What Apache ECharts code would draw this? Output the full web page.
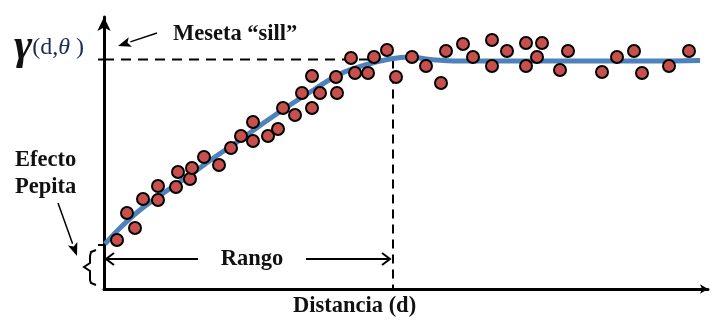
<!DOCTYPE html>
<html>
<head>
<meta charset="utf-8">
<script src="https://cdn.jsdelivr.net/npm/echarts@6/dist/echarts.min.js"></script>
<style>
html, body { margin: 0; padding: 0; background: #fff; }
#chart { width: 712px; height: 324px; }
</style>
</head>
<body>
<div id="chart"></div>
<script>
// distancia (d) y semivarianza gamma (unidades arbitrarias)
var muestrasD = [1.3, 2.3, 3.1, 3.9, 5.4, 5.4, 7.2, 7.4, 8.6, 8.8, 10.0, 11.5, 12.7, 13.7, 14.9, 14.9, 16.4, 17.4,
                 17.9, 19.1, 19.8, 20.8, 20.8, 21.6, 23.2, 23.3, 24.7, 25.1, 26.4, 27.0, 28.3, 29.2,
                 30.8, 32.2, 33.7, 34.2, 35.9, 36.9, 38.8, 38.8, 40.3, 42.2, 42.2, 43.3, 43.8, 45.6, 46.4,
                 49.8, 51.3, 53.0, 53.8, 56.5, 58.5];
var muestrasG = [4.9, 7.6, 6.1, 9.0, 8.9, 10.3, 10.2, 11.7, 11.0, 12.1, 13.2, 12.4, 14.1, 15.3, 14.8, 16.7, 15.3, 16.0,
                 18.1, 17.4, 19.6, 21.3, 18.1, 19.6, 21.2, 19.6, 23.1, 21.6, 21.6, 23.2, 23.9, 21.2,
                 23.2, 22.3, 20.6, 23.8, 24.5, 23.2, 24.9, 22.3, 23.8, 24.6, 22.3, 23.2, 24.6, 21.9, 23.8,
                 21.7, 23.2, 23.8, 21.6, 22.3, 23.8];

// modelo ajustado (curva azul)
var modeloD = [0.1, 1.6, 3.6, 6.1, 8.6, 11.1, 13.6, 16.1, 18.6, 21.1, 23.6, 26.1, 28.6, 30.6, 32.6, 35.6, 39.6, 44.6, 49.6, 54.6, 59.6];
var modeloG = [4.5, 6.1, 7.9, 9.7, 11.4, 13.2, 14.9, 16.7, 18.4, 20.0, 21.5, 22.4, 23.0, 23.2, 22.95, 22.8, 22.8, 22.8, 22.8, 22.8, 22.85];

var meseta = 22.95;
var rango = 28.9;
var pepita = 4.4;

var serif = "'Liberation Serif', 'Times New Roman', serif";
var chart = echarts.init(document.getElementById('chart'));

function pares(xs, ys) {
    return xs.map(function (x, i) { return [x, ys[i]]; });
}

chart.setOption({
    animation: false,
    grid: { left: 104, right: 4, top: 17, bottom: 35 },
    xAxis: {
        type: 'value', min: 0, max: 60.4,
        axisLine: { show: true, onZero: false, symbol: ['none', 'arrow'], symbolSize: [7, 8],
                    lineStyle: { color: '#000', width: 3 } },
        axisTick: { show: false }, axisLabel: { show: false }, splitLine: { show: false }
    },
    yAxis: {
        type: 'value', min: 0, max: 27.2,
        axisLine: { show: true, onZero: false, symbol: ['none', 'arrow'], symbolSize: [10, 14],
                    lineStyle: { color: '#000', width: 3 } },
        axisTick: { show: false }, axisLabel: { show: false }, splitLine: { show: false }
    },
    series: [
        {
            type: 'line', data: [[0, meseta], [rango, meseta]], symbol: 'none', z: 1,
            lineStyle: { color: '#000', width: 2, type: [10, 7] }
        },
        {
            type: 'line', data: [[rango, meseta], [rango, 0]], symbol: 'none', z: 1,
            lineStyle: { color: '#000', width: 2, type: [9, 6] }
        },
        {
            type: 'line', data: pares(modeloD, modeloG), smooth: 0.4, symbol: 'none', z: 2,
            lineStyle: { color: '#4f81bd', width: 5 }
        },
        {
            type: 'scatter', data: pares(muestrasD, muestrasG), symbolSize: 12, z: 3,
            itemStyle: { color: '#c8504c', borderColor: '#000', borderWidth: 2, opacity: 1 }
        }
    ]
});

// anotaciones
var p = function (x, y) { return chart.convertToPixel({ gridIndex: 0 }, [x, y]); };
var pSill = p(0, meseta), pNug = p(0, pepita), pRango = p(rango, 3.0);
var axX = pSill[0];

function chevron(tx, ty, dir, len, half) {
    return { type: 'polyline', shape: { points: [[tx - dir * len, ty - half], [tx, ty], [tx - dir * len, ty + half]] },
             style: { stroke: '#000', lineWidth: 2, fill: null } };
}
function flecha(x1, y1, x2, y2) {
    var a = Math.atan2(y2 - y1, x2 - x1), l = 13, w = 5;
    var bx = x2 - l * Math.cos(a), by = y2 - l * Math.sin(a);
    var nx = -Math.sin(a) * w, ny = Math.cos(a) * w;
    return [
        { type: 'line', shape: { x1: x1, y1: y1, x2: bx, y2: by }, style: { stroke: '#000', lineWidth: 1.5 } },
        { type: 'polygon', shape: { points: [[x2, y2], [bx + nx, by + ny], [bx + 3 * Math.cos(a), by + 3 * Math.sin(a)], [bx - nx, by - ny]] },
          style: { fill: '#000' } }
    ];
}
function texto(t, x, y, align) {
    return { type: 'text', style: { text: t, x: x, y: y, font: 'bold 22.5px ' + serif, fill: '#111',
             textAlign: align || 'left', textVerticalAlign: 'middle' } };
}

var ry = pRango[1];
var g = [
    // marcas en el eje
    { type: 'line', shape: { x1: axX - 6, y1: pSill[1], x2: axX, y2: pSill[1] }, style: { stroke: '#000', lineWidth: 2 } },
    { type: 'line', shape: { x1: axX - 6, y1: pNug[1], x2: axX, y2: pNug[1] }, style: { stroke: '#000', lineWidth: 2 } },
    // rango
    { type: 'line', shape: { x1: axX + 2, y1: ry, x2: 198, y2: ry }, style: { stroke: '#000', lineWidth: 2 } },
    { type: 'line', shape: { x1: 306, y1: ry, x2: pRango[0] - 3, y2: ry }, style: { stroke: '#000', lineWidth: 2 } },
    chevron(axX + 2, ry, -1, 8, 6),
    chevron(pRango[0] - 3, ry, 1, 8, 6),
    texto('Rango', 252, ry, 'center'),
    // llave del efecto pepita
    { type: 'polyline', shape: { points: [[96, 250], [91, 252], [90, 256], [90, 263], [84, 267], [90, 271], [90, 280], [91, 283], [96, 285]] },
      style: { stroke: '#000', lineWidth: 2, fill: null } },
    texto('Efecto', 15, 160),
    texto('Pepita', 15, 187),
    texto('Meseta \u201Csill\u201D', 173, 34),
    texto('Distancia (d)', 293, 306),
    {
        type: 'text',
        style: {
            text: '{g|\u03B3}{a|(d,}{t|\u03B8}{a| )}', x: 14, y: 48, textVerticalAlign: 'middle',
            rich: {
                g: { font: 'italic bold 44px ' + serif, fill: '#111' },
                a: { font: '24px ' + serif, fill: '#1f2a55' },
                t: { font: 'italic 24px ' + serif, fill: '#1f2a55' }
            }
        }
    }
];
g = g.concat(flecha(157, 33, 118, 46));
g = g.concat(flecha(58, 203, 77, 256));

chart.setOption({ graphic: g });
</script>
</body>
</html>
